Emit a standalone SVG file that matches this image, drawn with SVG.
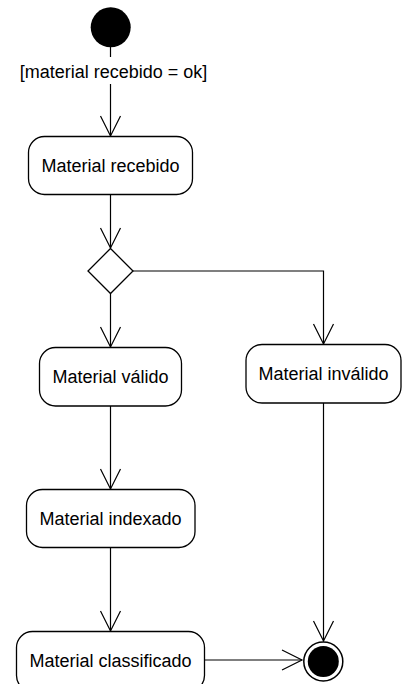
<svg xmlns="http://www.w3.org/2000/svg" width="403" height="684" viewBox="0 0 403 684">
  <style>
    .node { fill: #ffffff; stroke: #000000; stroke-width: 1.3; }
    .label { font-family: "Liberation Sans", Arial, sans-serif; font-size: 18px; fill: #000000; text-anchor: middle; }
    .edge { fill: none; stroke: #000000; stroke-width: 1.2; }
  </style>
  <defs>
    <marker id="open-arrow" markerUnits="userSpaceOnUse" markerWidth="24" markerHeight="24" viewBox="-22 -12 24 24" refX="0" refY="0" orient="auto">
      <path d="M -20 -10 L 0 0 L -20 10" fill="none" stroke="#000000" stroke-width="1.2"/>
    </marker>
  </defs>

  <rect width="403" height="684" fill="#ffffff"/>

  <!-- transitions -->
  <g id="connectors">
    <path class="edge" d="M 110.5 47 L 110.5 57"/>
    <path class="edge" d="M 110.5 84 L 110.5 136" marker-end="url(#open-arrow)"/>
    <text class="label" x="113.5" y="78">[material recebido = ok]</text>
    <path class="edge" d="M 110.5 194 L 110.5 248" marker-end="url(#open-arrow)"/>
    <path class="edge" d="M 110.5 293 L 110.5 347" marker-end="url(#open-arrow)"/>
    <path class="edge" d="M 133 271 L 323.5 271 L 323.5 344" marker-end="url(#open-arrow)"/>
    <path class="edge" d="M 110.5 406 L 110.5 489" marker-end="url(#open-arrow)"/>
    <path class="edge" d="M 110.5 548 L 110.5 631" marker-end="url(#open-arrow)"/>
    <path class="edge" d="M 323.5 403 L 323.5 641" marker-end="url(#open-arrow)"/>
    <path class="edge" d="M 205 660 L 302 660" marker-end="url(#open-arrow)"/>
  </g>

  <g id="start">
    <circle cx="110.7" cy="27.3" r="20" fill="#000000"/>
  </g>

  <g id="material-recebido">
    <rect class="node" x="28.5" y="136.5" width="164" height="58" rx="16" ry="16"/>
    <text class="label" x="110.5" y="171.5">Material recebido</text>
  </g>

  <g id="decision">
    <polygon class="node" points="110.5,248.5 133,271 110.5,293.5 88,271"/>
  </g>

  <g id="material-valido">
    <rect class="node" x="39.5" y="347.5" width="142" height="58.5" rx="16" ry="16"/>
    <text class="label" x="110.5" y="383">Material válido</text>
  </g>

  <g id="material-invalido">
    <rect class="node" x="246" y="344.5" width="155" height="58.5" rx="16" ry="16"/>
    <text class="label" x="323.5" y="380">Material inválido</text>
  </g>

  <g id="material-indexado">
    <rect class="node" x="26.5" y="489.5" width="168.5" height="58" rx="16" ry="16"/>
    <text class="label" x="110.5" y="525">Material indexado</text>
  </g>

  <g id="material-classificado">
    <rect class="node" x="16.5" y="631.5" width="188" height="60" rx="16" ry="16"/>
    <text class="label" x="110.5" y="666.5">Material classificado</text>
  </g>

  <g id="final">
    <circle cx="323.3" cy="661.5" r="19.5" fill="#ffffff" stroke="#000000" stroke-width="1.5"/>
    <circle cx="323.3" cy="661.5" r="15.5" fill="#000000"/>
  </g>
</svg>
